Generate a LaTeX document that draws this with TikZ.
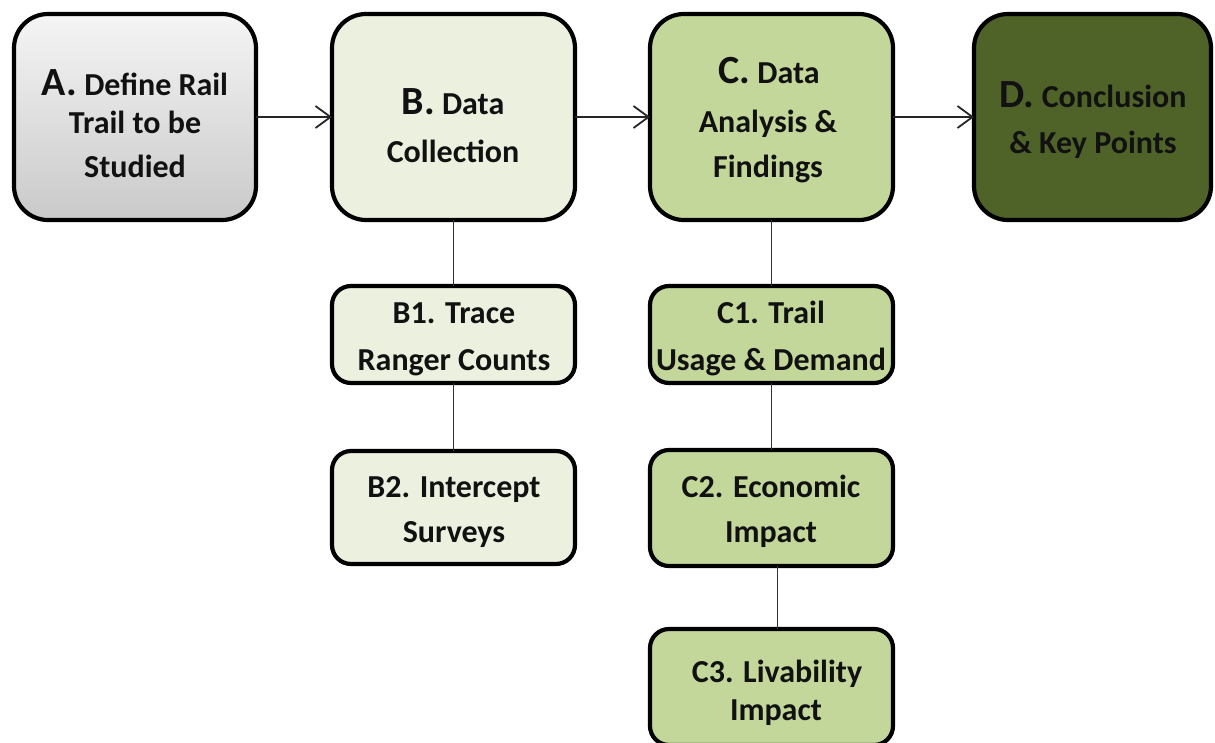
\documentclass[tikz,border=0pt]{standalone}
\usepackage{fontspec}
\setmainfont{Carlito}
\usetikzlibrary{arrows.meta}
\definecolor{bfill}{HTML}{EBF1DE}
\definecolor{cfill}{HTML}{C4D79B}
\definecolor{dfill}{HTML}{4F6228}
\definecolor{txt}{HTML}{111111}
\tikzset{
  bigbox/.style={draw=black, line width=4.2pt, rounded corners=34pt, inner sep=0pt, outer sep=0pt},
  smallbox/.style={draw=black, line width=4.2pt, rounded corners=19pt, inner sep=0pt, outer sep=0pt},
  ln/.style={anchor=base, inner sep=0pt, text=txt, font=\bfseries\fontsize{32}{34}\selectfont},
  arr/.style={draw=black!85, line width=1.8pt, -{Straight Barb[length=15pt,width=22pt,line width=1.8pt]}},
  link/.style={draw=black!80, line width=1.8pt},
}
\newcommand{\bigletter}[1]{{\fontsize{40}{42}\selectfont #1}}
\begin{document}
\begin{tikzpicture}[x=1pt,y=-1pt]
\useasboundingbox (0,0) rectangle (1215,742);
\clip (0,0) rectangle (1215,742);
% main boxes
\node[bigbox, top color=gray!8, bottom color=gray!42, minimum width=242pt, minimum height=206pt] (A) at (135,117) {};
\node[bigbox, fill=bfill, minimum width=243pt, minimum height=206pt] (B) at (453.5,117) {};
\node[bigbox, fill=cfill, minimum width=243pt, minimum height=206pt] (C) at (771.5,117) {};
\node[bigbox, fill=dfill, minimum width=237pt, minimum height=206pt] (D) at (1092.5,117) {};
% sub boxes
\node[smallbox, fill=bfill, minimum width=243pt, minimum height=97pt] (B1) at (453.5,334.5) {};
\node[smallbox, fill=bfill, minimum width=243pt, minimum height=113pt] (B2) at (453.5,507.5) {};
\node[smallbox, fill=cfill, minimum width=243pt, minimum height=97pt] (C1) at (771.5,334.5) {};
\node[smallbox, fill=cfill, minimum width=243pt, minimum height=116pt] (C2) at (771.5,508) {};
\node[smallbox, fill=cfill, minimum width=243pt, minimum height=116pt] (C3) at (771.5,687) {};
% arrows
\draw[arr] (A.east) -- (B.west);
\draw[arr] (B.east) -- (C.west);
\draw[arr] (C.east) -- (D.west);
% links
\draw[link] (B.south) -- (B1.north);
\draw[link] (B1.south) -- (B2.north);
\draw[link] (C.south) -- (C1.north);
\draw[link] (C1.south) -- (C2.north);
\coordinate (c2b) at ([xshift=6pt]C2.south);
\coordinate (c3t) at ([xshift=6pt]C3.north);
\draw[link] (c2b) -- (c3t);
% texts
\node[ln] (a1) at (135,95) {\bigletter{A.} Define Rail};
\node[ln] (a2) at (135,133) {Trail to be};
\node[ln] (a3) at (135,177) {Studied};
\node[ln] (b1) at (453,114) {\bigletter{B.} Data};
\node[ln] (b2) at (453,162) {Collection};
\node[ln] (c1) at (769,83) {\bigletter{C.} Data};
\node[ln] (c2) at (768,132) {Analysis \&};
\node[ln] (c3) at (768,177) {Findings};
\node[ln] (d1) at (1093,107) {\bigletter{D.} Conclusion};
\node[ln] (d2) at (1093,153) {\& Key Points};
\node[ln] (b11) at (454,323) {B1. Trace};
\node[ln] (b12) at (454,370) {Ranger Counts};
\node[ln] (b21) at (454,497) {B2. Intercept};
\node[ln] (b22) at (454,542) {Surveys};
\node[ln] (c11) at (771,323) {C1. Trail};
\node[ln] (c12) at (771,370) {Usage \& Demand};
\node[ln] (c21) at (771,497) {C2. Economic};
\node[ln] (c22) at (771,542) {Impact};
\node[ln] (c31) at (777,682) {C3. Livability};
\node[ln] (c32) at (776,720) {Impact};
\end{tikzpicture}
\end{document}
